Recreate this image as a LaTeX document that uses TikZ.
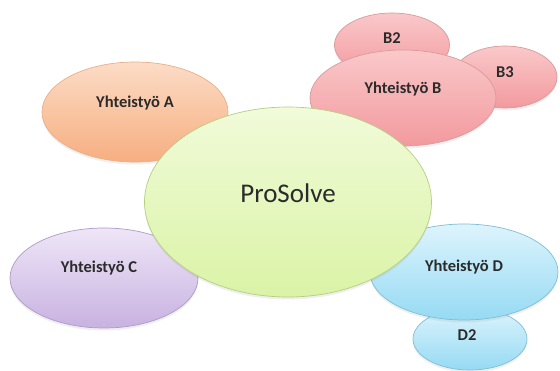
\documentclass[tikz,border=0pt]{standalone}
\usepackage{fontspec}
\setmainfont{Carlito}
\usetikzlibrary{shapes.geometric,shadows}
\definecolor{txt}{HTML}{2B2B2B}
\tikzset{
  blob/.style args={#1/#2}{ellipse, inner sep=0pt, outer sep=0pt,
    minimum width=#1pt, minimum height=#2pt, line width=0.7pt,
    drop shadow={opacity=0.12, shadow xshift=0pt, shadow yshift=-2.5pt}},
  orange/.style={top color=OrT, bottom color=OrB, draw=OrD},
  pink/.style={top color=PkT, bottom color=PkB, draw=PkD},
  lilac/.style={top color=LiT, bottom color=LiB, draw=LiD},
  sky/.style={top color=SkT, bottom color=SkB, draw=SkD},
  lime/.style={top color=LmT, bottom color=LmB, draw=LmD},
  lbl/.style={font=\fontsize{16.5}{19}\selectfont\bfseries, text=txt, inner sep=0pt},
  biglbl/.style={font=\fontsize{27}{31}\selectfont, text=txt, inner sep=0pt}
}
\definecolor{OrT}{HTML}{FCDCC6}\definecolor{OrB}{HTML}{F6AE80}\definecolor{OrD}{HTML}{E8B08A}
\definecolor{PkT}{HTML}{FAC8CA}\definecolor{PkB}{HTML}{F29A9E}\definecolor{PkD}{HTML}{D99A9C}
\definecolor{LiT}{HTML}{EEE6F7}\definecolor{LiB}{HTML}{C8B2E1}\definecolor{LiD}{HTML}{AC9BC6}
\definecolor{SkT}{HTML}{DDF4FD}\definecolor{SkB}{HTML}{96DAF3}\definecolor{SkD}{HTML}{7EBFD6}
\definecolor{LmT}{HTML}{F1FBD9}\definecolor{LmB}{HTML}{DAF3A6}\definecolor{LmD}{HTML}{B4CF80}
\begin{document}
\begin{tikzpicture}[x=1pt,y=-1pt]
\fill[white] (0,0) rectangle (560,371);
\useasboundingbox (0,0) rectangle (560,371);
% B group
\node[blob=115/64, pink] (b2) at (392,45) {};
\node[blob=104/62, pink] (b3) at (505,77) {};
\node[blob=186/96, pink] (b) at (403,98) {};
% A and C
\node[blob=186/100, orange] (a) at (135,112) {};
\node[blob=188/100, lilac] (c) at (104,278) {};
% D group
\node[blob=114/62, sky] (d2) at (470,339) {};
\node[blob=188/96, sky] (d) at (464,272) {};
% centre
\node[blob=287/190, lime] (p) at (288,202) {};
% labels
\node[lbl] (tb2) at ([yshift=7pt]b2.center) {B2};
\node[lbl] (tb3) at ([yshift=5pt]b3.center) {B3};
\node[lbl] (tb) at ([yshift=9pt]b.center) {Yhteistyö B};
\node[lbl] (ta) at ([yshift=9pt]a.center) {Yhteistyö A};
\node[lbl] (tc) at ([xshift=-5pt,yshift=10pt]c.center) {Yhteistyö C};
\node[lbl] (td2) at ([xshift=-3pt,yshift=4pt]d2.center) {D2};
\node[lbl] (td) at ([yshift=5pt]d.center) {Yhteistyö D};
\node[biglbl] (tp) at ([yshift=9pt]p.center) {ProSolve};
\end{tikzpicture}
\end{document}
